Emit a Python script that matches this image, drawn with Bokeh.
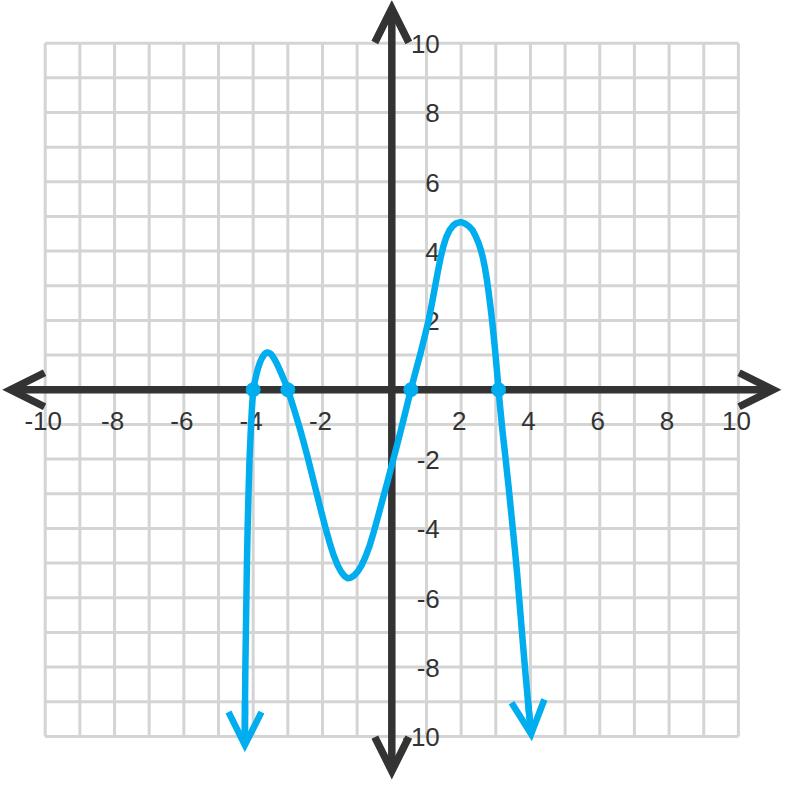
from bokeh.plotting import figure
from bokeh.models import Arrow, OpenHead, ColumnDataSource
from bokeh.core.properties import value
from bokeh.embed import file_html
from bokeh.resources import INLINE

# ---- data ----
grid_ticks = list(range(-10, 11))
x_label_vals = [-10, -8, -6, -4, -2, 2, 4, 6, 8, 10]
y_label_vals = [10, 8, 6, 4, 2, -2, -4, -6, -8, -10]
axis_extent = 11.0

# points (left arrow tip -> right arrow tip)
curve_x = [-4.24, -4.235, -4.225, -4.21, -4.195, -4.18, -4.16, -4.135, -4.105, -4.07,
           -4.04, -4.00, -3.95, -3.90, -3.85, -3.80, -3.75, -3.70, -3.65, -3.60,
           -3.55, -3.50, -3.44, -3.39, -3.33, -3.26, -3.18, -3.09, -3.00, -2.90,
           -2.80, -2.67, -2.55, -2.43, -2.30, -2.19, -2.05, -1.92, -1.80, -1.68,
           -1.56, -1.45, -1.35, -1.27, -1.18, -1.08, -0.98, -0.88, -0.76, -0.64,
           -0.52, -0.40, -0.26, -0.13, 0.00, 0.13, 0.25, 0.40, 0.55, 0.68,
           0.82, 0.94, 1.06, 1.15, 1.24, 1.33, 1.41, 1.49, 1.57, 1.67,
           1.77, 1.87, 1.95, 2.02, 2.12, 2.22, 2.33, 2.42, 2.50, 2.57,
           2.63, 2.69, 2.74, 2.79, 2.84, 2.89, 2.94, 2.99, 3.04, 3.08,
           3.13, 3.20, 3.28, 3.37, 3.46, 3.55, 3.62, 3.69, 3.76, 3.84,
           3.93, 4.02]
curve_y = [-10.25, -9.0, -8.0, -7.0, -6.0, -5.0, -4.0, -3.0, -2.0, -1.2,
           -0.6, 0.0, 0.25, 0.47, 0.65, 0.80, 0.91, 0.99, 1.05, 1.075,
           1.07, 1.04, 0.97, 0.89, 0.78, 0.63, 0.45, 0.24, 0.0, -0.31,
           -0.63, -1.06, -1.49, -1.94, -2.46, -2.90, -3.46, -3.96, -4.39, -4.77,
           -5.07, -5.27, -5.39, -5.44, -5.42, -5.35, -5.24, -5.08, -4.82, -4.50,
           -4.10, -3.67, -3.15, -2.67, -2.17, -1.68, -1.21, -0.61, 0.0, 0.50,
           1.02, 1.50, 2.00, 2.45, 2.93, 3.42, 3.82, 4.15, 4.40, 4.61,
           4.74, 4.81, 4.83, 4.83, 4.79, 4.72, 4.60, 4.43, 4.24, 4.03,
           3.80, 3.50, 3.20, 2.84, 2.45, 2.03, 1.55, 1.03, 0.48, 0.0,
           -0.55, -1.25, -1.96, -2.80, -3.70, -4.60, -5.35, -6.20, -7.05, -8.00,
           -9.00, -9.93]
root_x = [-4.0, -3.0, 0.55, 3.08]
root_y = [0.0, 0.0, 0.0, 0.0]

BLUE = "#00ADEF"
DARK = "#333333"
GRID = "#D4D4D4"

p = figure(width=784, height=782, x_range=(-11.29, 11.33), y_range=(-11.33, 11.23),
           output_backend="svg", toolbar_location=None,
           x_axis_location=None, y_axis_location=None, min_border=0)
p.outline_line_color = None
p.background_fill_color = "white"
p.border_fill_color = "white"
p.xgrid.visible = False
p.ygrid.visible = False

g_lo, g_hi = min(grid_ticks), max(grid_ticks)
n = len(grid_ticks)
p.segment(x0=grid_ticks, y0=[g_lo] * n, x1=grid_ticks, y1=[g_hi] * n,
          line_color=GRID, line_width=3, level="underlay")
p.segment(x0=[g_lo] * n, y0=grid_ticks, x1=[g_hi] * n, y1=grid_ticks,
          line_color=GRID, line_width=3, level="underlay")

# axes with arrow heads
def axis_head():
    return OpenHead(size=34, line_color=DARK, line_width=7.5, line_join="miter")

p.add_layout(Arrow(start=axis_head(), end=axis_head(),
                   x_start=-axis_extent, y_start=0, x_end=axis_extent, y_end=0,
                   line_color=DARK, line_width=7.5, level="underlay"))
p.add_layout(Arrow(start=axis_head(), end=axis_head(),
                   x_start=0, y_start=-axis_extent, x_end=0, y_end=axis_extent,
                   line_color=DARK, line_width=7.5, level="underlay"))

# tick labels
xs = ColumnDataSource(dict(x=x_label_vals, y=[0] * len(x_label_vals),
                           t=[str(v) for v in x_label_vals]))
p.text(x="x", y="y", text="t", source=xs, text_font=value("Liberation Sans"),
       text_font_size="26px", text_color=DARK, text_align="center",
       text_baseline="middle", x_offset=-2, y_offset=31)
ys = ColumnDataSource(dict(x=[0] * len(y_label_vals), y=y_label_vals,
                           t=[str(v) for v in y_label_vals]))
p.text(x="x", y="y", text="t", source=ys, text_font=value("Liberation Sans"),
       text_font_size="26px", text_color=DARK, text_align="right",
       text_baseline="middle", x_offset=48, y_offset=1)

# curve
p.line(curve_x, curve_y, line_width=6.5, line_color=BLUE, line_join="round")
p.scatter(root_x, root_y, size=14, color=BLUE)
def curve_head():
    return OpenHead(size=33, line_color=BLUE, line_width=6.5, line_join="miter")
p.add_layout(Arrow(end=curve_head(),
                   x_start=curve_x[1], y_start=curve_y[1], x_end=curve_x[0], y_end=curve_y[0],
                   line_color=BLUE, line_width=6.5))
p.add_layout(Arrow(end=curve_head(),
                   x_start=curve_x[-2], y_start=curve_y[-2], x_end=curve_x[-1], y_end=curve_y[-1],
                   line_color=BLUE, line_width=6.5))

open("out.html", "w").write(file_html(p, INLINE))
